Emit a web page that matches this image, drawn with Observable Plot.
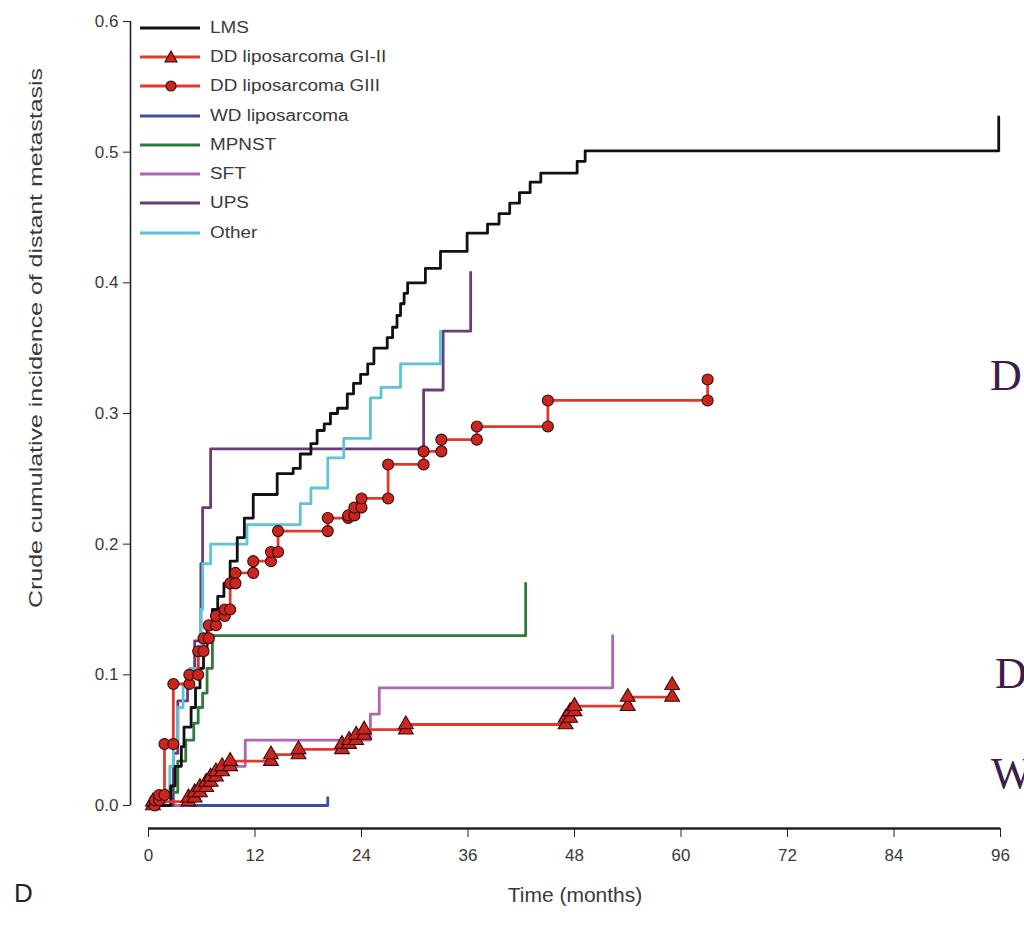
<!DOCTYPE html>
<html><head><meta charset="utf-8">
<script src="https://cdn.jsdelivr.net/npm/d3@7"></script>
<script src="https://cdn.jsdelivr.net/npm/@observablehq/plot@0.6"></script>
<style>
html,body{margin:0;padding:0;background:#fff;overflow:hidden;}
#wrap{position:relative;width:1024px;height:932px;font-family:"Liberation Sans",Arial,sans-serif;}
#legend{position:absolute;left:140px;top:13px;}
.row{display:flex;align-items:center;height:29.3px;}
.row span{font-size:16px;color:#3a3a3a;margin-left:8px;display:inline-block;transform:scaleX(1.18);transform-origin:left center;white-space:nowrap;}
#over{position:absolute;left:0;top:0;pointer-events:none;}
</style></head><body><div id="wrap"></div>
<script>
// ---- data (months, cumulative incidence) ----
const seriesNames = ["LMS","DD liposarcoma GI-II","DD liposarcoma GIII","WD liposarcoma","MPNST","SFT","UPS","Other"];
const seriesColors = ["#111111","#e2392e","#e2392e","#3c4f9e","#2e7b3c","#b064b4","#6a3d78","#5cc4d6"];
const xTicks = [0,12,24,36,48,60,72,84,96];
const yTicks = [0,0.1,0.2,0.3,0.4,0.5,0.6];

const lmsT = [0,2.5,3.0,3.7,4.0,4.8,5.3,5.8,6.2,6.6,7.2,7.8,8.5,9.2,10.0,10.8,11.8,14.5,16.3,17.1,18.3,19.0,19.8,20.5,21.3,22.4,23.1,23.9,24.7,25.4,26.9,27.5,28.0,28.4,28.8,29.2,31.2,32.9,35.9,38.2,39.5,40.7,41.8,43.0,44.2,48.3,49.2,95.8];
const lmsV = [0,0.015,0.03,0.045,0.06,0.075,0.09,0.105,0.12,0.135,0.15,0.16,0.17,0.187,0.205,0.22,0.238,0.254,0.258,0.269,0.277,0.287,0.292,0.3,0.304,0.315,0.323,0.33,0.338,0.35,0.358,0.366,0.375,0.384,0.392,0.4,0.411,0.424,0.438,0.445,0.453,0.461,0.469,0.477,0.484,0.493,0.501,0.527];

const g12T = [0,0.5,4.5,5.2,5.8,6.5,7.0,7.6,8.3,9.2,13.8,16.9,21.8,22.6,23.4,24.3,29.0,47.0,47.5,48.0,54.0,59.0];
const g12V = [0,0.003,0.006,0.01,0.014,0.018,0.022,0.026,0.03,0.034,0.039,0.043,0.047,0.05,0.054,0.058,0.062,0.067,0.072,0.076,0.083,0.092];

const g3T = [0,0.7,1.2,1.8,2.8,4.6,5.6,6.2,6.8,7.6,8.6,9.2,9.8,11.8,13.8,14.6,20.2,22.5,23.2,24.0,27.0,31.0,33.0,37.0,45.0,63.0];
const g3V = [0,0.004,0.008,0.047,0.093,0.1,0.118,0.128,0.138,0.145,0.15,0.17,0.178,0.187,0.194,0.21,0.22,0.222,0.228,0.235,0.261,0.271,0.28,0.29,0.31,0.326];

const wdT = [0,20.2];
const wdV = [0,0.006];

const mpT = [0,1.7,3.3,4.2,5.1,5.6,6.1,6.6,7.2,42.5];
const mpV = [0,0.01,0.034,0.05,0.063,0.075,0.086,0.105,0.13,0.17];

const sftT = [0,4.7,5.5,6.3,7.0,7.8,8.6,10.9,25.0,26.0,52.3];
const sftV = [0,0.005,0.01,0.015,0.02,0.025,0.03,0.05,0.07,0.09,0.13];

const upsT = [0,2.8,3.3,4.4,5.2,5.9,6.1,7.0,31.0,33.2,36.3];
const upsV = [0,0.04,0.08,0.1,0.126,0.185,0.228,0.273,0.318,0.363,0.408];

const othT = [0,1.9,2.4,2.8,3.3,3.9,4.6,5.6,5.9,6.1,7.0,11.1,17.1,18.3,20.2,22.0,25.0,26.2,28.4,32.9];
const othV = [0,0.012,0.03,0.05,0.075,0.093,0.105,0.12,0.15,0.185,0.2,0.215,0.231,0.243,0.266,0.281,0.312,0.32,0.338,0.363];

// ---- build tables ----
const drawOrder = [
  ["WD liposarcoma", wdT, wdV], ["SFT", sftT, sftV], ["UPS", upsT, upsV],
  ["MPNST", mpT, mpV], ["Other", othT, othV], ["LMS", lmsT, lmsV],
  ["DD liposarcoma GI-II", g12T, g12V], ["DD liposarcoma GIII", g3T, g3V]
];
const rows = drawOrder.flatMap(([name, T, V]) => T.map((t, i) => ({series: name, t, v: V[i]})));
function stepMarkers(T, V) {
  const out = [];
  for (let i = 1; i < T.length; i++) { out.push({t: T[i], v: V[i-1]}); out.push({t: T[i], v: V[i]}); }
  return out;
}
const mark12 = stepMarkers(g12T, g12V);
const mark3 = stepMarkers(g3T, g3V);

const chart = Plot.plot({
  width: 1024, height: 932,
  marginLeft: 148, marginRight: 24, marginTop: 21, marginBottom: 127,
  x: {domain: [0, 96]},
  y: {domain: [0, 0.6]},
  color: {domain: seriesNames, range: seriesColors},
  style: {fontFamily: '"Liberation Sans", Arial, sans-serif', fontSize: "17px", color: "#3a3a3a", background: "transparent", overflow: "visible"},
  marks: [
    Plot.ruleX([0], {y1: 0, y2: 0.6, dx: -18, stroke: "#222", strokeWidth: 1.6}),
    Plot.axisY(yTicks, {tickFormat: d => d.toFixed(1), tickSize: 7, tickPadding: 5, dx: -18, label: null, stroke: "#222", fontSize: 17}),
    Plot.ruleY([0], {x1: 0, x2: 96, dy: 23, stroke: "#222", strokeWidth: 2.6}),
    Plot.axisX(xTicks, {tickSize: 9, tickPadding: 11, dy: 23, label: null, stroke: "#222", fontSize: 17}),
    Plot.line(rows, {x: "t", y: "v", z: "series", stroke: "series", curve: "step-after", strokeWidth: 2.8}),
    Plot.dot(mark12, {x: "t", y: "v", symbol: "triangle", r: 5.5, fill: "#c9261f", stroke: "#3a0808", strokeWidth: 1.1}),
    Plot.dot(mark3, {x: "t", y: "v", r: 5.5, fill: "#c9261f", stroke: "#3a0808", strokeWidth: 1.1})
  ]
});
const wrap = document.getElementById("wrap");
wrap.appendChild(chart);

// legend (HTML overlay inside the plot area)
const legend = document.createElement("div");
legend.id = "legend";
seriesNames.forEach((name, i) => {
  const row = document.createElement("div");
  row.className = "row";
  const c = seriesColors[i];
  let marker = "";
  if (name.endsWith("GI-II")) marker = `<path d="M31,4 L37,15 L25,15 Z" fill="#c9261f" stroke="#3a0808" stroke-width="1.1"/>`;
  if (name.endsWith("GIII")) marker = `<circle cx="31" cy="10" r="5" fill="#c9261f" stroke="#3a0808" stroke-width="1.1"/>`;
  row.innerHTML = `<svg width="62" height="20"><line x1="0" x2="60" y1="10" y2="10" stroke="${c}" stroke-width="2.8"/>${marker}</svg><span>${name}</span>`;
  legend.appendChild(row);
});
wrap.appendChild(legend);

// axis titles and stray letters
const NS = "http://www.w3.org/2000/svg";
const over = document.createElementNS(NS, "svg");
over.setAttribute("id", "over");
over.setAttribute("width", 1024);
over.setAttribute("height", 932);
over.innerHTML = `
  <text x="0" y="0" transform="translate(42,338) rotate(-90)" text-anchor="middle" font-family="Liberation Sans, Arial, sans-serif" font-size="19" fill="#3a3a3a" textLength="540" lengthAdjust="spacingAndGlyphs">Crude cumulative incidence of distant metastasis</text>
  <text x="575" y="902" text-anchor="middle" font-family="Liberation Sans, Arial, sans-serif" font-size="21" fill="#3a3a3a">Time (months)</text>
  <text x="14" y="902" font-family="Liberation Sans, Arial, sans-serif" font-size="26" fill="#222">D</text>
  <text x="990" y="390" font-family="Liberation Serif, Times New Roman, serif" font-size="44" fill="#3d1c4a">D</text>
  <text x="995" y="688" font-family="Liberation Serif, Times New Roman, serif" font-size="44" fill="#3d1c4a">D</text>
  <text x="991" y="788" font-family="Liberation Serif, Times New Roman, serif" font-size="44" fill="#3d1c4a">W</text>`;
wrap.appendChild(over);
</script></body></html>
